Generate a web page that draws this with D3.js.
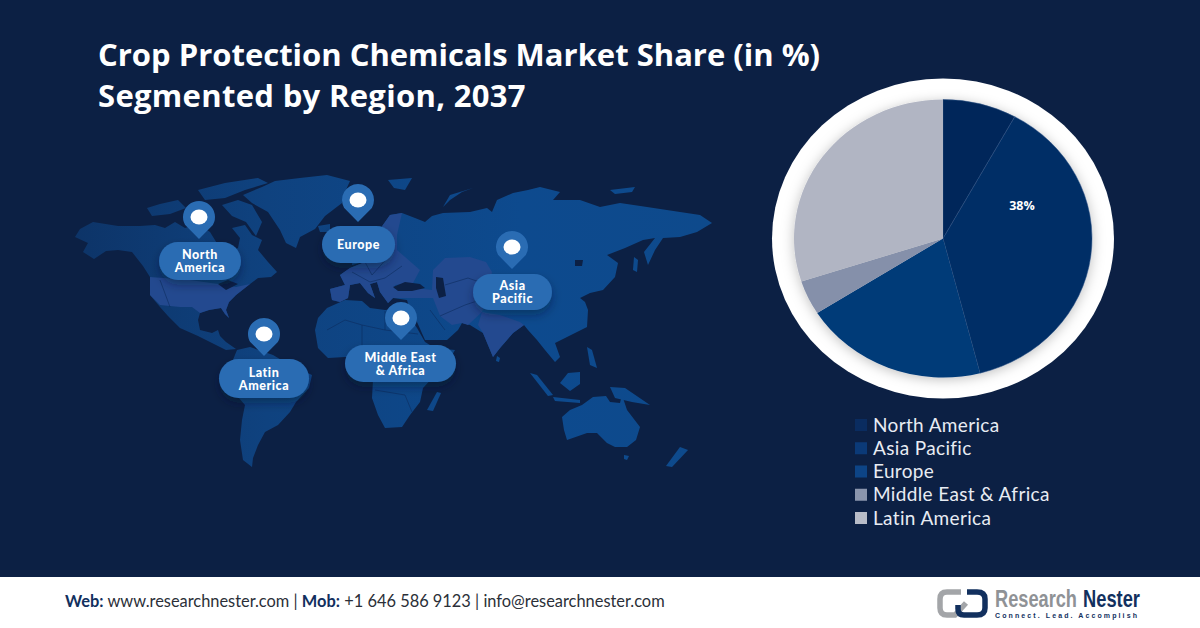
<!DOCTYPE html>
<html>
<head>
<meta charset="utf-8">
<script src="https://cdn.jsdelivr.net/npm/d3@7"></script>
<style>
  html, body { margin: 0; padding: 0; background: #0c2044; }
  svg { display: block; }
</style>
</head>
<body>
<div id="chart"></div>
<script>
// pie data
const regions = ["North America", "Asia Pacific", "Europe", "Middle East & Africa", "Latin America"];
const shares = [8, 38, 20, 4, 30];
const regionColors = ["#00285a", "#002e66", "#003a78", "#8590aa", "#b1b5c3"];
const legendColors = ["#0a2c60", "#0b3a78", "#0d4486", "#8a95ad", "#b8bcc8"];
const shownLabels = [null, "38%", null, null, null];

// callouts on the map
const pinNames = [["North", "America"], ["Europe"], ["Latin", "America"], ["Middle East", "& Africa"], ["Asia", "Pacific"]];
const pinCentres = [[199, 217], [358, 200], [264, 334], [401, 318], [512, 247]];
const pillBoxes = [[159, 242, 82, 38], [322, 226, 73, 37], [219, 359, 90, 39], [345, 345, 111, 37], [473, 274, 79, 36]];

// map outlines
const landRings = [
  // north america
  [[75,237],[80,229],[93,222],[118,226],[140,226],[155,225],[165,228],[175,222],[185,228],[198,224],[210,232],[218,245],[228,252],[238,248],[240,238],[232,228],[245,225],[252,235],[262,240],[258,250],[268,262],[277,272],[271,277],[258,278],[250,284],[236,295],[229,302],[226,310],[229,318],[225,314],[221,308],[209,310],[200,313],[198,320],[200,330],[212,333],[218,330],[220,336],[226,342],[236,349],[226,350],[212,343],[198,336],[180,328],[168,316],[160,307],[150,295],[150,277],[143,266],[132,252],[118,250],[106,251],[94,259],[83,252],[88,243]],
  // south america
  [[237,350],[250,347],[273,355],[290,365],[312,375],[309,388],[296,402],[290,412],[278,425],[265,432],[258,445],[253,458],[252,467],[243,460],[240,440],[242,420],[245,405],[232,390],[228,372]],
  // africa
  [[315,330],[318,318],[327,308],[345,300],[362,301],[370,308],[385,310],[397,309],[405,310],[417,328],[425,342],[435,348],[455,350],[448,362],[435,375],[423,388],[420,402],[410,415],[402,427],[385,428],[378,415],[372,398],[373,380],[368,370],[360,360],[345,357],[328,358],[318,348]],
  // greenland
  [[243,195],[262,187],[275,181],[300,178],[327,175],[350,181],[345,192],[342,203],[325,216],[315,229],[300,237],[296,248],[286,243],[280,230],[268,212],[252,203]],
  // eurasia
  [[332,300],[330,289],[345,285],[340,275],[350,268],[365,262],[376,258],[374,250],[385,250],[378,232],[390,215],[402,213],[415,218],[425,222],[432,216],[443,213],[470,212],[487,208],[492,212],[497,200],[513,193],[528,190],[540,187],[560,192],[553,200],[580,200],[600,207],[620,203],[647,207],[680,212],[700,215],[712,223],[697,232],[680,237],[663,238],[655,250],[648,265],[644,252],[655,238],[643,240],[625,248],[607,255],[618,263],[615,277],[603,290],[590,293],[580,298],[585,302],[588,310],[587,327],[567,337],[555,343],[560,357],[555,362],[545,350],[537,340],[528,330],[524,325],[513,333],[500,348],[493,357],[488,345],[483,333],[470,325],[462,323],[458,330],[447,340],[425,340],[417,322],[410,310],[407,300],[393,298],[388,303],[380,292],[377,282],[370,284],[375,298],[368,293],[360,283],[350,285],[348,298],[340,302]],
  // australia
  [[562,417],[570,410],[582,405],[593,397],[606,396],[610,402],[620,403],[622,395],[627,410],[640,427],[636,440],[627,447],[615,447],[607,443],[597,433],[587,433],[567,440],[564,430]],
  // sumatra, borneo, java, new guinea, philippines
  [[530,373],[537,375],[553,395],[548,396]],
  [[560,383],[568,373],[580,372],[580,384],[570,391]],
  [[553,397],[580,400],[580,403],[555,401]],
  [[610,387],[625,388],[650,405],[632,402],[615,398]],
  [[587,347],[592,350],[597,368],[590,365]],
  // madagascar, sri lanka, new zealand, tasmania
  [[437,392],[441,393],[433,411],[427,410]],
  [[497,356],[500,358],[499,362],[496,361]],
  [[680,447],[688,450],[672,467],[666,466]],
  [[624,455],[629,456],[627,460],[624,459]],
  // arctic bits
  [[147,208],[160,204],[178,200],[186,208],[170,214],[152,216]],
  [[198,190],[225,183],[258,178],[268,183],[245,190],[225,198],[205,200]],
  [[190,205],[205,203],[212,212],[200,218],[188,214]],
  [[222,205],[238,200],[252,205],[262,222],[256,236],[246,222],[232,216]],
  [[443,207],[450,195],[473,188],[462,192],[450,200]],
  [[388,180],[412,178],[405,190],[394,188]],
  [[610,190],[635,187],[632,192],[615,194]],
  // uk, iceland, sakhalin
  [[353,255],[360,247],[363,262],[352,265]],
  [[318,226],[330,224],[330,232],[320,232]],
  [[634,257],[638,260],[637,272],[633,270]]
];
const lightRings = [
  // usa
  [[150,277],[190,280],[218,284],[236,287],[250,284],[236,295],[229,302],[226,310],[229,318],[225,314],[221,308],[209,310],[200,313],[192,307],[180,307],[160,305],[150,295]],
  // europe
  [[332,300],[330,289],[345,285],[340,275],[350,268],[365,262],[376,258],[374,250],[385,250],[378,232],[390,215],[402,213],[397,235],[397,250],[420,270],[413,283],[395,285],[393,298],[388,303],[380,292],[377,282],[370,284],[375,298],[368,293],[360,283],[350,285],[348,298],[340,302]],
  // turkey and central asia
  [[393,298],[393,289],[415,288],[432,290],[433,270],[445,258],[470,257],[486,262],[492,272],[488,295],[482,312],[468,325],[462,323],[452,325],[440,316],[433,298]],
  // india
  [[482,312],[500,315],[520,322],[524,325],[513,333],[500,348],[493,357],[488,345],[483,333],[478,325]]
];
const waterRings = [
  [[393,287],[405,282],[420,284],[425,288],[412,291],[398,291]],
  [[436,277],[443,278],[446,296],[439,298],[436,288]],
  [[384,235],[389,238],[386,252],[381,250]],
  [[218,284],[228,280],[238,284],[226,290]],
  [[575,260],[583,260],[582,266],[575,266]]
];
const borderLines = [
  [[327,330],[345,320],[362,325],[362,355]],
  [[362,325],[385,330],[385,311]],
  [[385,330],[418,334]],
  [[375,390],[405,395],[412,412]],
  [[352,272],[370,282],[385,278],[402,266]],
  [[365,262],[372,275],[390,255]],
  [[440,316],[465,305],[480,300]],
  [[445,285],[468,278],[488,285]],
  [[430,310],[445,330]],
  [[170,307],[160,280]]
];

const width = 1200;
const height = 628;
const bandTop = 577;
const background = "#0c2044";

const svg = d3.select("#chart").append("svg")
  .attr("width", width)
  .attr("height", height)
  .attr("viewBox", [0, 0, width, height]);

const defs = svg.append("defs");

const landFade = defs.append("linearGradient")
  .attr("id", "land-fade")
  .attr("gradientUnits", "userSpaceOnUse")
  .attr("x1", 75).attr("x2", 712).attr("y1", 0).attr("y2", 0);
landFade.append("stop").attr("offset", 0).attr("stop-color", "#0d3468");
landFade.append("stop").attr("offset", 0.3).attr("stop-color", "#0f427f");
landFade.append("stop").attr("offset", 0.7).attr("stop-color", "#0d4a8e");
landFade.append("stop").attr("offset", 1).attr("stop-color", "#0e4a8c");

const pieShadow = defs.append("filter")
  .attr("id", "pie-shadow")
  .attr("x", "-15%").attr("y", "-15%").attr("width", "130%").attr("height", "130%");
pieShadow.append("feDropShadow")
  .attr("dx", 0).attr("dy", 2)
  .attr("stdDeviation", 6)
  .attr("flood-color", "#000")
  .attr("flood-opacity", 0.25);

const pillShadow = defs.append("filter")
  .attr("id", "pill-shadow")
  .attr("x", "-20%").attr("y", "-30%").attr("width", "140%").attr("height", "180%");
pillShadow.append("feDropShadow")
  .attr("dx", 0).attr("dy", 5)
  .attr("stdDeviation", 5)
  .attr("flood-color", "#061530")
  .attr("flood-opacity", 0.4);

svg.append("rect")
  .attr("width", width)
  .attr("height", height)
  .attr("fill", background);

// title
svg.append("g").selectAll("text")
  .data(["Crop Protection Chemicals Market Share (in %)", "Segmented by Region, 2037"])
  .join("text")
  .attr("x", 98)
  .attr("y", (d, i) => 66 + i * 41)
  .attr("font-family", "'Open Sans', sans-serif")
  .attr("font-weight", 700)
  .attr("font-size", 31)
  .attr("letter-spacing", (d, i) => i ? 0.32 : 0)
  .attr("fill", "#fff")
  .text(d => d);

// map
const outline = d3.line().curve(d3.curveLinearClosed);
const map = svg.append("g");

const drawRings = (rings, fill) => map.append("g")
  .selectAll("path")
  .data(rings)
  .join("path")
  .attr("d", outline)
  .attr("fill", fill);

drawRings(landRings, "url(#land-fade)");
drawRings(lightRings, "#23498f");
drawRings(waterRings, background);

map.append("g")
  .selectAll("path")
  .data(borderLines)
  .join("path")
  .attr("d", d3.line())
  .attr("fill", "none")
  .attr("stroke", "#0c2c5e")
  .attr("stroke-width", 0.6);

// callouts
const callouts = map.append("g")
  .selectAll("g")
  .data(pinNames.map((name, i) => ({ name, centre: pinCentres[i], box: pillBoxes[i] })))
  .join("g");

callouts.append("rect")
  .attr("x", d => d.box[0])
  .attr("y", d => d.box[1])
  .attr("width", d => d.box[2])
  .attr("height", d => d.box[3])
  .attr("rx", d => d.box[3] / 2)
  .attr("fill", "#2a6cb3")
  .attr("filter", "url(#pill-shadow)");

const pinRadius = 16;
const pinDrop = 22;
const pinPath = ([cx, cy]) => {
  const p = d3.path();
  p.moveTo(cx, cy + pinDrop);
  p.lineTo(cx - pinRadius * 0.86, cy + pinRadius * 0.5);
  p.arc(cx, cy, pinRadius, Math.PI * 5 / 6, Math.PI / 6);
  p.closePath();
  return p.toString();
};

callouts.append("path")
  .attr("d", d => pinPath(d.centre))
  .attr("fill", "#2a6cb3");

callouts.append("ellipse")
  .attr("cx", d => d.centre[0])
  .attr("cy", d => d.centre[1])
  .attr("rx", 8.5)
  .attr("ry", 7.5)
  .attr("fill", "#fff");

callouts.append("text")
  .attr("text-anchor", "middle")
  .attr("font-family", "Lato, sans-serif")
  .attr("font-weight", 900)
  .attr("font-size", 12.5)
  .attr("letter-spacing", 0.55)
  .attr("fill", "#fff")
  .selectAll("tspan")
  .data(d => d.name.map((line, i) => ({
    line,
    x: d.box[0] + d.box[2] / 2,
    y: d.box[1] + d.box[3] / 2 + 4.5 + (i - (d.name.length - 1) / 2) * 13
  })))
  .join("tspan")
  .attr("x", d => d.x)
  .attr("y", d => d.y)
  .text(d => d.line);

// pie, squashed a bit in y like the picture
const pieX = 943;
const pieY = 238.5;
const pieR = 139;
const stretchX = 149 / 139;
const ringRx = 171;
const ringRy = 160;

svg.append("ellipse")
  .attr("cx", pieX)
  .attr("cy", pieY)
  .attr("rx", ringRx)
  .attr("ry", ringRy)
  .attr("fill", "#fff");

const pieGroup = svg.append("g")
  .attr("transform", `translate(${pieX},${pieY}) scale(${stretchX},1)`)
  .attr("filter", "url(#pie-shadow)");

const pie = d3.pie().sort(null).value(d => d);
const arc = d3.arc().innerRadius(0).outerRadius(pieR);

pieGroup.selectAll("path")
  .data(pie(shares))
  .join("path")
  .attr("d", arc)
  .attr("fill", (d, i) => regionColors[i])
  .attr("stroke", (d, i) => i < 2 ? "#2c4f82" : "none")
  .attr("stroke-width", 0.5);

svg.append("g").selectAll("text")
  .data(shownLabels.filter(d => d))
  .join("text")
  .attr("x", 1022)
  .attr("y", 209.5)
  .attr("text-anchor", "middle")
  .attr("font-family", "'Open Sans', sans-serif")
  .attr("font-weight", 700)
  .attr("font-size", 12.5)
  .attr("fill", "#fff")
  .text(d => d);

// legend
const legendY = d3.scalePoint().domain(regions).range([425, 518]);
const legend = svg.append("g")
  .selectAll("g")
  .data(regions)
  .join("g")
  .attr("transform", d => `translate(855,${legendY(d)})`);

legend.append("rect")
  .attr("y", -6)
  .attr("width", 12)
  .attr("height", 12)
  .attr("fill", (d, i) => legendColors[i]);

legend.append("text")
  .attr("x", 18)
  .attr("y", 6.5)
  .attr("font-family", "Lato, sans-serif")
  .attr("font-size", 19)
  .attr("letter-spacing", 0.35)
  .attr("fill", "#e8ecf3")
  .text(d => d);

// footer
svg.append("rect")
  .attr("y", bandTop)
  .attr("width", width)
  .attr("height", height - bandTop)
  .attr("fill", "#fff");

const contact = svg.append("text")
  .attr("x", 65)
  .attr("y", 607)
  .attr("font-family", "Lato, sans-serif")
  .attr("font-size", 16.4)
  .attr("fill", "#2b2f38");

[["Web:", true], [" www.researchnester.com | ", false], ["Mob:", true], [" +1 646 586 9123 | info@researchnester.com", false]]
  .forEach(([part, bold]) => contact.append("tspan")
    .attr("font-weight", bold ? 700 : 400)
    .attr("fill", bold ? "#12305e" : "#2b2f38")
    .text(part));

// logo
const logo = svg.append("g").attr("fill", "none").attr("stroke-width", 5.5);
logo.append("path")
  .attr("d", "M961 592H947Q940 592 940 599V608Q940 615 947 615H955L966 603")
  .attr("stroke", "#a3a5a8");
logo.append("path")
  .attr("d", "M967 592H977Q985 592 985 599V608Q985 615 977 615H964Q958 615 958 609V605")
  .attr("stroke", "#12305e");

// squeeze each word to its width with a transform, the font is too wide otherwise
svg.append("g").selectAll("text")
  .data([
    { word: "Research", x: 995, len: 82, fill: "#8f9296" },
    { word: "Nester", x: 1083, len: 57, fill: "#12305e" }
  ])
  .join("text")
  .attr("font-family", "'Liberation Sans Narrow', 'Liberation Sans', sans-serif")
  .attr("font-weight", 700)
  .attr("font-size", 23)
  .attr("fill", d => d.fill)
  .text(d => d.word)
  .attr("transform", function (d) {
    return `translate(${d.x},607) scale(${d.len / this.getComputedTextLength()},1)`;
  });

svg.append("text")
  .attr("x", 995)
  .attr("y", 618)
  .attr("font-family", "'Liberation Sans', sans-serif")
  .attr("font-weight", 700)
  .attr("font-size", 7)
  .attr("letter-spacing", 2.1)
  .attr("fill", "#12305e")
  .text("Connect. Lead. Accomplish");
</script>
</body>
</html>
